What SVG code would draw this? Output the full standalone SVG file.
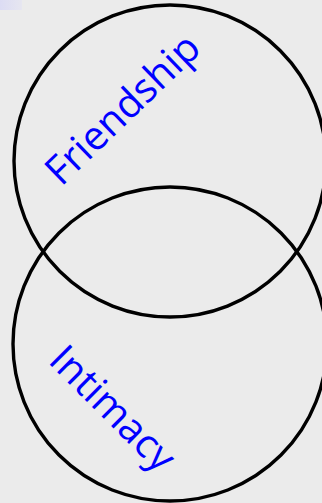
<svg xmlns="http://www.w3.org/2000/svg" width="322" height="503" viewBox="0 0 322 503">
<style>
.c{fill:none;stroke:#000;stroke-width:3.4}
.t{font-family:"Open Sans","Noto Sans",sans-serif;font-size:40px;fill:#0000ff;text-anchor:middle}
</style>
<defs>
<linearGradient id="g" x1="0" y1="0" x2="1" y2="0">
<stop offset="0" stop-color="#dcdcf4"/>
<stop offset="1" stop-color="#e6e6f0"/>
</linearGradient>
</defs>
<rect width="322" height="503" fill="#ebebeb"/>
<rect width="22" height="10" fill="url(#g)"/>
<g id="friendship">
<circle class="c" cx="170" cy="161" r="156"/>
<text class="t" transform="translate(132,119) rotate(-44)">Friendship</text>
</g>
<g id="intimacy">
<circle class="c" cx="170" cy="344" r="157"/>
<text class="t" transform="translate(103,418) rotate(45)">Intimacy</text>
</g>
<g id="connectors"/>
</svg>
